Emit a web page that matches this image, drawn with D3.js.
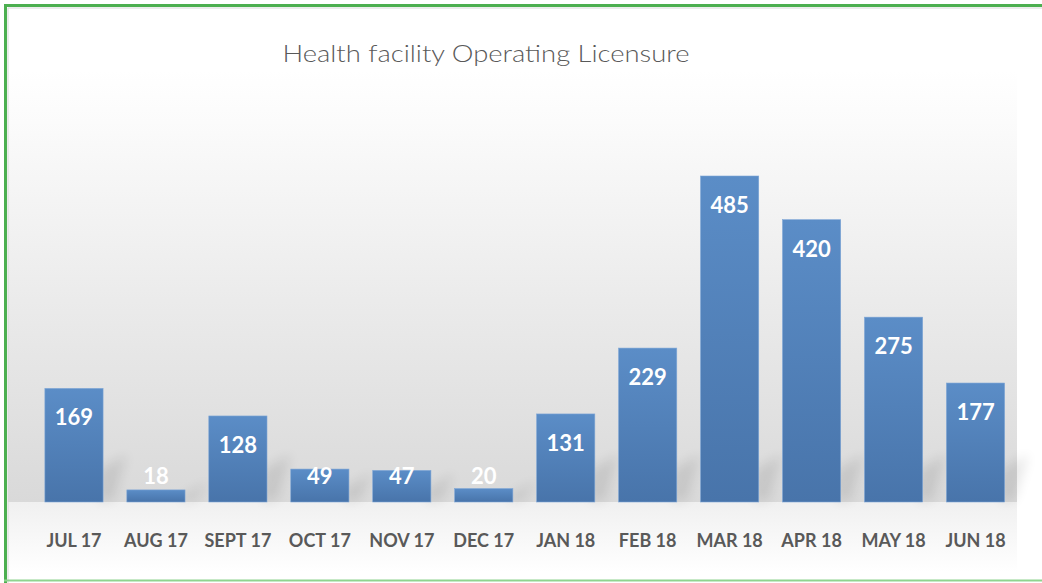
<!DOCTYPE html>
<html><head><meta charset="utf-8">
<script src="https://cdn.jsdelivr.net/npm/d3@7"></script>
<style>html,body{margin:0;padding:0;background:#fff;}svg{display:block;}</style>
</head><body>
<svg id="c" width="1042" height="583"></svg>
<script>
const title = "Health facility Operating Licensure";
const categories = ["JUL 17","AUG 17","SEPT 17","OCT 17","NOV 17","DEC 17","JAN 18","FEB 18","MAR 18","APR 18","MAY 18","JUN 18"];
const values = [169,18,128,49,47,20,131,229,485,420,275,177];

const svg = d3.select("#c");
const defs = svg.append("defs");

const bgGrad = defs.append("linearGradient").attr("id","bg").attr("x1",0).attr("y1",0).attr("x2",0).attr("y2",1);
bgGrad.append("stop").attr("offset","0%").attr("stop-color","#ffffff");
bgGrad.append("stop").attr("offset","12%").attr("stop-color","#fbfbfb");
bgGrad.append("stop").attr("offset","100%").attr("stop-color","#d9d9d9");

const floorGrad = defs.append("linearGradient").attr("id","floor").attr("x1",0).attr("y1",0).attr("x2",0).attr("y2",1);
floorGrad.append("stop").attr("offset","0%").attr("stop-color","#f0f0f0");
floorGrad.append("stop").attr("offset","100%").attr("stop-color","#ffffff");

const barGrad = defs.append("linearGradient").attr("id","bar").attr("x1",0).attr("y1",0).attr("x2",0).attr("y2",1);
barGrad.append("stop").attr("offset","0%").attr("stop-color","#5b8dc7");
barGrad.append("stop").attr("offset","100%").attr("stop-color","#4874aa");

const blur = defs.append("filter").attr("id","blur").attr("x","-50%").attr("y","-50%").attr("width","200%").attr("height","200%");
blur.append("feGaussianBlur").attr("stdDeviation",6);

const baseline = 502;
const x = d3.scaleBand().domain(categories).range([33, 1016.5]).paddingInner(0.29).paddingOuter(0.145);
const y = d3.scaleLinear().domain([0, 485]).range([baseline, 176]);

// background
svg.append("rect").attr("x",6).attr("y",6).attr("width",1036).attr("height",574).attr("fill","#ffffff");
svg.append("rect").attr("x",8).attr("y",70).attr("width",1009).attr("height",baseline-70).attr("fill","url(#bg)");
svg.append("rect").attr("x",8).attr("y",baseline).attr("width",1009).attr("height",70).attr("fill","url(#floor)");

// shadows
const g = svg.append("g");
g.selectAll("polygon.sh").data(values).join("polygon").attr("class","sh")
  .attr("points",(d,i)=>{
    const x1 = x(categories[i]) + x.bandwidth();
    const h = Math.min(baseline - y(d), 80);
    return [[x1-4, baseline],[x1-4, baseline-h*0.4],[x1+24, baseline-h*0.4-16],[x1+10, baseline-2]].map(p=>p.join(",")).join(" ");
  })
  .attr("fill","#000").attr("opacity",0.09).attr("filter","url(#blur)");

// bars
g.selectAll("rect.bar").data(values).join("rect").attr("class","bar")
  .attr("x",(d,i)=>x(categories[i]))
  .attr("y",d=>y(d))
  .attr("width",x.bandwidth())
  .attr("height",d=>baseline-y(d))
  .attr("fill","url(#bar)")
  .attr("stroke","#7ea6d6").attr("stroke-width",0.6);

// value labels
g.selectAll("text.val").data(values).join("text").attr("class","val")
  .attr("x",(d,i)=>x(categories[i]) + x.bandwidth()/2)
  .attr("y",d=>Math.min(y(d)+37, 484))
  .attr("text-anchor","middle")
  .attr("font-family","Lato, 'Open Sans', sans-serif")
  .attr("font-weight","bold")
  .attr("font-size",22)
  .attr("fill","#ffffff")
  .text(d=>d);

// x axis labels
const xAxis = d3.axisBottom(x).tickSize(0).tickPadding(0);
const ax = svg.append("g").attr("transform",`translate(0,${baseline})`).call(xAxis);
ax.select(".domain").remove();
ax.selectAll("text")
  .attr("y",45).attr("dy",0)
  .attr("font-family","Lato, 'Open Sans', sans-serif")
  .attr("font-weight","bold")
  .attr("font-size",18)
  .attr("fill","#595959");

// title
svg.append("text").attr("x",486).attr("y",62).attr("text-anchor","middle")
  .attr("font-family","Lato, 'Open Sans', sans-serif")
  .attr("font-weight",300)
  .attr("font-size",24)
  .attr("fill","#595959")
  .attr("textLength",407).attr("lengthAdjust","spacingAndGlyphs")
  .text(title);

// border
svg.append("line").attr("x1",4).attr("x2",1042).attr("y1",5.5).attr("y2",5.5).attr("stroke","#4caf50").attr("stroke-width",3);
svg.append("line").attr("x1",5.5).attr("x2",5.5).attr("y1",4).attr("y2",583).attr("stroke","#4caf50").attr("stroke-width",3);
svg.append("line").attr("x1",8).attr("x2",1042).attr("y1",8).attr("y2",8).attr("stroke","#d8d8d8").attr("stroke-width",1);
svg.append("line").attr("x1",8).attr("x2",8).attr("y1",8).attr("y2",583).attr("stroke","#d8d8d8").attr("stroke-width",1);
svg.append("line").attr("x1",4).attr("x2",1042).attr("y1",580.5).attr("y2",580.5).attr("stroke","#8fd48f").attr("stroke-width",2);
</script>
</body></html>
